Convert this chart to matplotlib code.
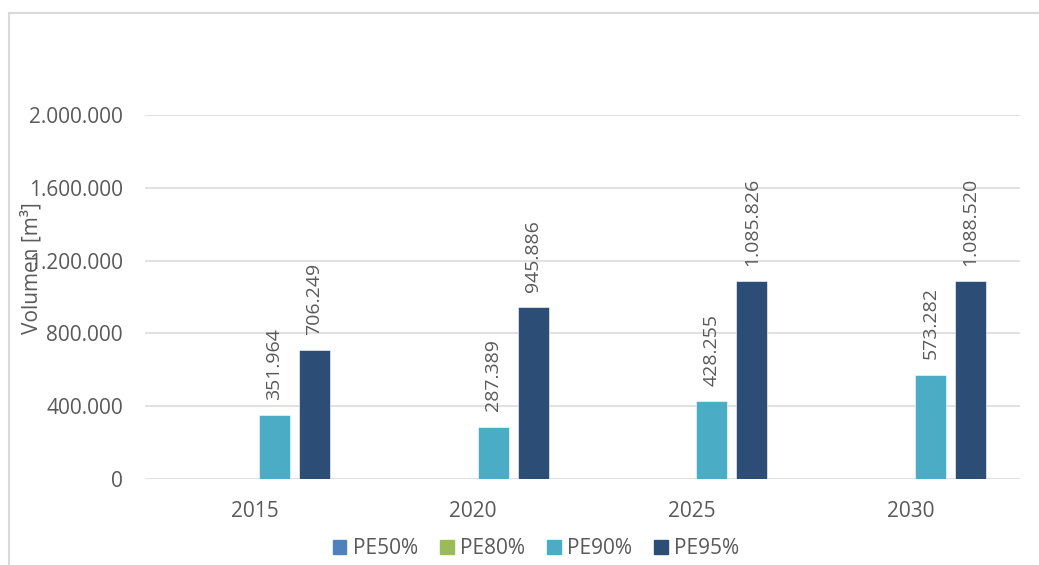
import matplotlib
matplotlib.use('Agg')
import matplotlib.pyplot as plt
from matplotlib.ticker import FuncFormatter, MultipleLocator
from matplotlib.lines import Line2D
from matplotlib.patches import Patch
import numpy as np

# datos
anios = ['2015', '2020', '2025', '2030']
series = ['PE50%', 'PE80%', 'PE90%', 'PE95%']
pe50 = [0, 0, 0, 0]
pe80 = [0, 0, 0, 0]
pe90 = [351964, 287389, 428255, 573282]
pe95 = [706249, 945886, 1085826, 1088520]
colores = ['#4F81BD', '#9BBB59', '#4BACC6', '#2C4D75']

TXT = '#595959'
GRID = '#D9D9D9'
plt.rcParams['font.family'] = ['Open Sans', 'DejaVu Sans']


def miles(v, pos=None):
    """formato con punto como separador de miles"""
    return f'{int(round(v)):,}'.replace(',', '.')


fig = plt.figure(figsize=(10.39, 5.65), dpi=100)
ax = fig.add_axes([145 / 1039, 86 / 565, 875 / 1039, 364 / 565])

x = np.arange(len(anios))
paso = 0.183
ancho = 0.142
datos = [pe50, pe80, pe90, pe95]
for i, (nombre, vals, col) in enumerate(zip(series, datos, colores)):
    pos = x + (i - 1.5) * paso
    ax.bar(pos, vals, width=ancho, color=col, edgecolor='white',
           linewidth=0.4, label=nombre, zorder=3)
    for xb, v in zip(pos, vals):
        if v > 0:
            ax.annotate(miles(v), (xb, v), xytext=(0, 11), textcoords='offset points',
                        rotation=90, ha='center', va='bottom', fontsize=14, color=TXT)

ax.set_xlim(-0.5, 3.5)
ax.set_ylim(0, 2000000)
ax.yaxis.set_major_locator(MultipleLocator(400000))
ax.yaxis.set_major_formatter(FuncFormatter(miles))
ax.set_xticks(x)
ax.set_xticklabels(anios)
ax.tick_params(axis='both', length=0, labelsize=15, colors=TXT)
ax.tick_params(axis='y', pad=16)
ax.tick_params(axis='x', pad=16)
ax.grid(axis='y', color=GRID, linewidth=1.1, zorder=0)
for s in ax.spines.values():
    s.set_visible(False)

fig.text(32 / 1039, 1 - 268 / 565, 'Volumen [m³]', rotation=90, ha='center',
         va='center', fontsize=15, color=TXT)

# marco del grafico
fig.add_artist(Line2D([9 / 1039, 1], [1 - 13 / 565] * 2, color=GRID, lw=1.5))
fig.add_artist(Line2D([9 / 1039] * 2, [0, 1 - 13 / 565], color=GRID, lw=1.5))

handles = [Patch(color=c) for c in colores]
fig.legend(handles, series, loc='center', bbox_to_anchor=(536 / 1039, 1 - 549 / 565),
           ncol=4, frameon=False, fontsize=15, handlelength=0.65, handleheight=0.65,
           handletextpad=0.3, columnspacing=1.07, labelcolor=TXT)

fig.savefig('out.png', dpi=100)
